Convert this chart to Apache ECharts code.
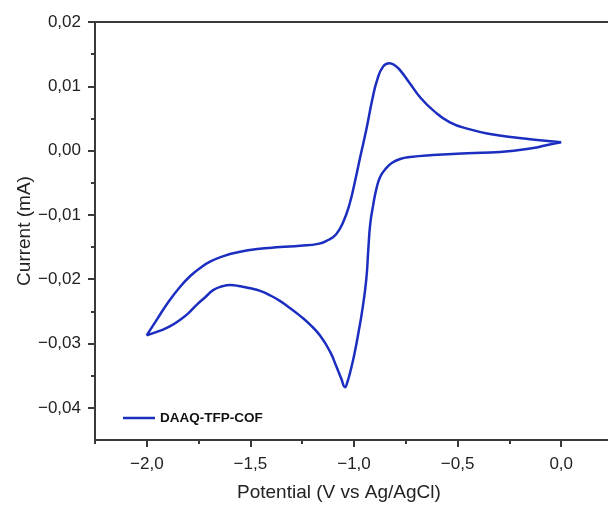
<!DOCTYPE html>
<html>
<head>
<meta charset="utf-8">
<script src="https://cdn.jsdelivr.net/npm/echarts@6/dist/echarts.min.js"></script>
<style>
html,body{margin:0;padding:0;background:#fff;}
#chart{width:608px;height:505px;}
</style>
</head>
<body>
<div id="chart"></div>
<script>
// Data (potential in V, current in mA), in sweep order
const seriesName = "DAAQ-TFP-COF";
const potential = [
  0.000, -0.078, -0.135, -0.295, -0.454, -0.619, -0.729, -0.777, -0.816, -0.849,
  -0.874, -0.893, -0.907, -0.922, -0.931, -0.941, -0.960, -0.979, -0.999, -1.018,
  -1.033, -1.043, -1.062, -1.086, -1.115, -1.163, -1.211, -1.260, -1.308, -1.356,
  -1.405, -1.453, -1.501, -1.549, -1.597, -1.636, -1.680, -1.718, -1.757, -1.800,
  -1.839, -1.887, -1.935, -2.000,
  -1.950, -1.895, -1.840, -1.790, -1.740, -1.690, -1.630, -1.560, -1.467, -1.356, -1.260,
  -1.173, -1.125, -1.086, -1.052, -1.023, -0.994, -0.970, -0.941, -0.912, -0.888,
  -0.859, -0.830, -0.801, -0.775, -0.729, -0.681, -0.619, -0.537, -0.440, -0.344,
  -0.213, -0.102, 0.000
];
const current = [
  0.0013, 0.0008, 0.0004, -0.0002, -0.0004, -0.0007, -0.0010, -0.0013, -0.0019, -0.0029,
  -0.0041, -0.0061, -0.0084, -0.0115, -0.0154, -0.0201, -0.0248, -0.0284, -0.0318, -0.0344,
  -0.0361, -0.0368, -0.0354, -0.0335, -0.0313, -0.0288, -0.0271, -0.0257, -0.0245, -0.0234,
  -0.0225, -0.0218, -0.0214, -0.0211, -0.0209, -0.0211, -0.0217, -0.0228, -0.0239, -0.0253,
  -0.0263, -0.0273, -0.0280, -0.0287,
  -0.0262, -0.0235, -0.0212, -0.0195, -0.0182, -0.0172, -0.0164, -0.0158, -0.0153, -0.0150, -0.0148,
  -0.0145, -0.0139, -0.0130, -0.0111, -0.0085, -0.0046, -0.0010, 0.0032, 0.0079, 0.0110,
  0.0131, 0.0136, 0.0132, 0.0124, 0.0104, 0.0083, 0.0063, 0.0044, 0.0033, 0.0026,
  0.0020, 0.0016, 0.0013
];
const xMajorTicks = [-2.0, -1.5, -1.0, -0.5, 0.0];
const xMinorTicks = [-2.25, -1.75, -1.25, -0.75, -0.25];
const yMajorTicks = [-0.04, -0.03, -0.02, -0.01, 0.00, 0.01, 0.02];
const yMinorTicks = [-0.035, -0.025, -0.015, -0.005, 0.005, 0.015];
const xTitle = "Potential (V vs Ag/AgCl)";
const yTitle = "Current (mA)";

const points = potential.map((v, i) => [v, current[i]]);
const fmt = (v, d) => v.toFixed(d).replace('.', ',').replace('-', '\u2212');
const font = "'Liberation Sans', Arial, sans-serif";
const axisColor = '#3a3a3a';
const lineColor = '#1b2ec0';

const chart = echarts.init(document.getElementById('chart'), null, {renderer: 'canvas'});
chart.setOption({
  animation: false,
  backgroundColor: '#fff',
  grid: {
    left: 95, top: 22, width: 518, height: 418,
    outerBoundsMode: 'none', containLabel: false,
    show: true, borderColor: axisColor, borderWidth: 2, backgroundColor: 'transparent'
  },
  legend: {
    left: 123, top: 411, padding: 0, itemWidth: 32, itemHeight: 2.5, itemGap: 5,
    textStyle: {fontFamily: font, fontSize: 13.5, fontWeight: 'bold', color: '#111'},
    data: [{name: seriesName, icon: 'rect', itemStyle: {color: lineColor}}]
  },
  xAxis: [
    {
      type: 'value', min: -2.25, max: 0.25, position: 'bottom',
      axisLine: {show: true, onZero: false, lineStyle: {color: axisColor, width: 2}},
      axisTick: {show: true, customValues: xMajorTicks, length: 7, lineStyle: {color: axisColor, width: 2}},
      axisLabel: {customValues: xMajorTicks, formatter: v => fmt(v, 1), fontFamily: font, fontSize: 17, color: '#222', margin: 16},
      splitLine: {show: false}
    },
    {
      type: 'value', min: -2.25, max: 0.25, position: 'bottom',
      axisLine: {show: false, onZero: false},
      axisTick: {show: true, customValues: xMinorTicks, length: 4, lineStyle: {color: axisColor, width: 2}},
      axisLabel: {show: false},
      splitLine: {show: false}
    }
  ],
  yAxis: [
    {
      type: 'value', min: -0.045, max: 0.02, position: 'left',
      name: yTitle, nameLocation: 'middle', nameGap: 61, nameMoveOverlap: false,
      nameTextStyle: {fontFamily: font, fontSize: 19, color: '#222'},
      axisLine: {show: true, onZero: false, lineStyle: {color: axisColor, width: 2}},
      axisTick: {show: true, customValues: yMajorTicks, length: 7, lineStyle: {color: axisColor, width: 2}},
      axisLabel: {customValues: yMajorTicks, formatter: v => fmt(v, 2), fontFamily: font, fontSize: 17, color: '#222', margin: 14},
      splitLine: {show: false}
    },
    {
      type: 'value', min: -0.045, max: 0.02, position: 'left',
      axisLine: {show: false, onZero: false},
      axisTick: {show: true, customValues: yMinorTicks, length: 4, lineStyle: {color: axisColor, width: 2}},
      axisLabel: {show: false},
      splitLine: {show: false}
    }
  ],
  graphic: [{
    type: 'text', left: 237, top: 483,
    style: {text: xTitle, fontFamily: font, fontSize: 19, fill: '#222'}
  }],
  series: [{
    name: seriesName, type: 'line', data: points,
    xAxisIndex: 0, yAxisIndex: 0,
    showSymbol: false, symbol: 'none', smooth: 0.5,
    lineStyle: {color: lineColor, width: 2.5},
    itemStyle: {color: lineColor}
  }]
});
</script>
</body>
</html>
